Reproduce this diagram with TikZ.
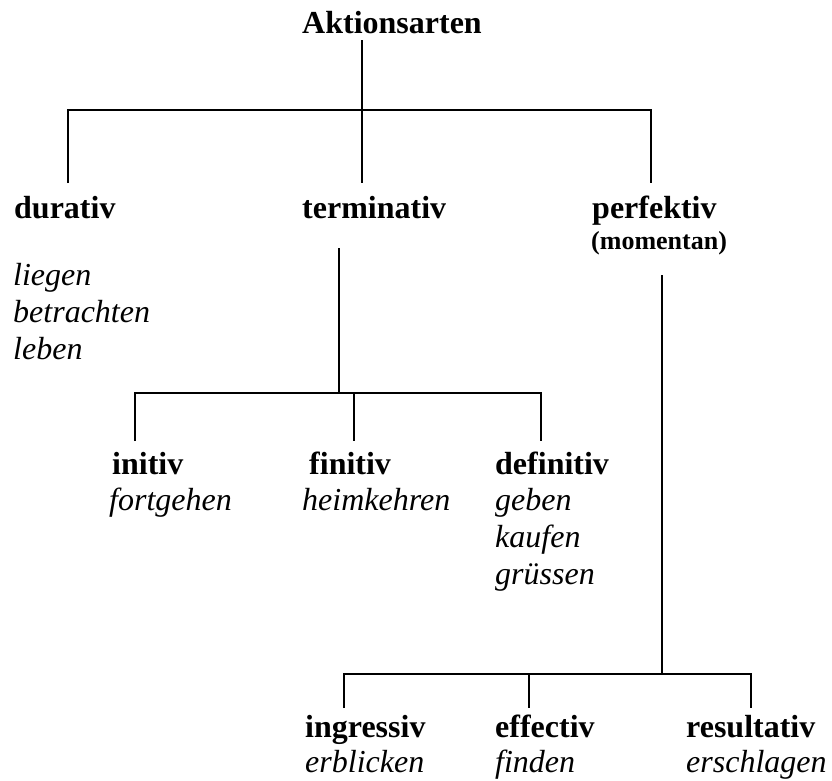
\documentclass[tikz,border=0pt]{standalone}
\usepackage{fontspec}
\setmainfont{Liberation Serif}
\usetikzlibrary{positioning}
\tikzset{
  art/.style={anchor=base west, inner sep=0pt, font=\fontsize{32}{30}\selectfont\bfseries},
  zusatz/.style={anchor=base west, inner sep=0pt, font=\fontsize{26}{30}\selectfont\bfseries},
  verb/.style={anchor=base west, inner sep=0pt, font=\fontsize{32}{30}\selectfont\itshape},
  ast/.style={line width=2.2pt},
}
\begin{document}
\begin{tikzpicture}[x=1pt,y=-1pt]
        \useasboundingbox (0,0) rectangle (832,780);
        % Oberbegriff
        \node[art] (akt) at (302,33) {Aktionsarten};
        % Erste Ebene
        \node[art] (dur) at (14,218) {durativ};
        \node[art] (term) at (302,218) {terminativ};
        \node[art] (perf) at (592,218) {perfektiv};
        \node[zusatz] (mom) at (591,249) {(momentan)};
        \node[verb] (dur1) at (13,285) {liegen};
        \node[verb] (dur2) at (13,322) {betrachten};
        \node[verb] (dur3) at (13,359) {leben};
        % Unter terminativ
        \node[art] (ini) at (112,474) {initiv};
        \node[verb] (ini1) at (109,510) {fortgehen};
        \node[art] (fin) at (309,474) {finitiv};
        \node[verb] (fin1) at (302,510) {heimkehren};
        \node[art] (def) at (495,474) {definitiv};
        \node[verb] (def1) at (495,510) {geben};
        \node[verb] (def2) at (495,547) {kaufen};
        \node[verb] (def3) at (495,584) {grüssen};
        % Unter perfektiv
        \node[art] (ingr) at (305,737) {ingressiv};
        \node[verb] (ingr1) at (305,772) {erblicken};
        \node[art] (eff) at (495,737) {effectiv};
        \node[verb] (eff1) at (495,772) {finden};
        \node[art] (res) at (686,737) {resultativ};
        \node[verb] (res1) at (686,772) {erschlagen};
        % Knickpunkte
        \coordinate (a0) at (362,40);
        \coordinate (a1) at (362,110);
        \coordinate (a2) at (362,183);
        \coordinate (l0) at (68,110);
        \coordinate (l1) at (68,183);
        \coordinate (r0) at (651,110);
        \coordinate (r1) at (651,183);
        \coordinate (t0) at (339,248);
        \coordinate (t1) at (339,393);
        \coordinate (t2) at (135,393);
        \coordinate (t3) at (135,441);
        \coordinate (t4) at (354,393);
        \coordinate (t5) at (354,441);
        \coordinate (t6) at (541,393);
        \coordinate (t7) at (541,441);
        \coordinate (p0) at (662,275);
        \coordinate (p1) at (662,674);
        \coordinate (p2) at (344,674);
        \coordinate (p3) at (344,708);
        \coordinate (p4) at (529,674);
        \coordinate (p5) at (529,708);
        \coordinate (p6) at (751,674);
        \coordinate (p7) at (751,708);
        % Aeste
        \draw[ast] (a0) -- (a2);
        \draw[ast] (l1) -- (l0) -- (r0) -- (r1);
        \draw[ast] (t0) -- (t1);
        \draw[ast] (t3) -- (t2) -- (t6) -- (t7);
        \draw[ast] (t4) -- (t5);
        \draw[ast] (p0) -- (p1);
        \draw[ast] (p3) -- (p2) -- (p6) -- (p7);
        \draw[ast] (p4) -- (p5);
\end{tikzpicture}
\end{document}
